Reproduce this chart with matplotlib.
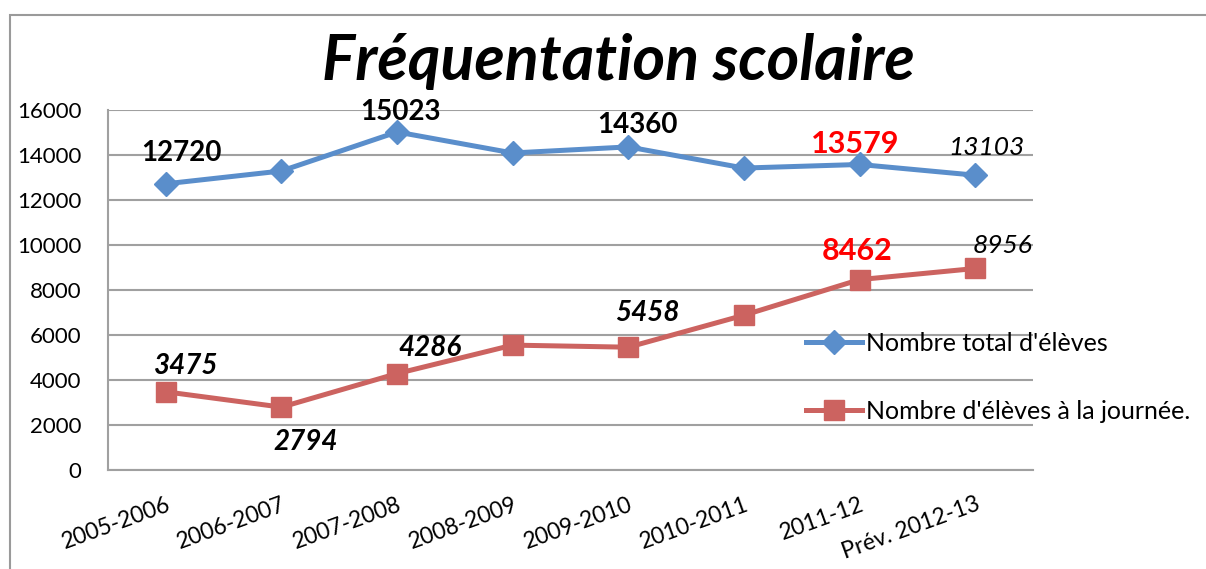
import matplotlib
matplotlib.use('Agg')
import matplotlib.pyplot as plt
from matplotlib.patches import Rectangle

plt.rcParams['font.family'] = ['Lato', 'DejaVu Sans']

# data
years = ["2005-2006", "2006-2007", "2007-2008", "2008-2009",
         "2009-2010", "2010-2011", "2011-12", "Prév. 2012-13"]
total = [12720, 13290, 15023, 14090, 14360, 13420, 13579, 13103]
journee = [3475, 2794, 4286, 5550, 5458, 6880, 8462, 8956]
total_label = "Nombre total d'élèves"
journee_label = "Nombre d'élèves à la journée."
yticks = [0, 2000, 4000, 6000, 8000, 10000, 12000, 14000, 16000]

# which points get a label, and how it looks: (index, dx px, dy px, weight, style, color, size)
total_tags = [(0, 16, 31, 'bold', 'normal', 'black', 20),
              (2, 3, 20, 'bold', 'normal', 'black', 20),
              (4, 9, 22, 'bold', 'normal', 'black', 20),
              (6, -4, 20, 'bold', 'normal', 'red', 22),
              (7, 11, 28, 'normal', 'italic', 'black', 19)]
journee_tags = [(0, 20, 26, 'bold', 'italic', 'black', 20),
                (1, 24, -35, 'bold', 'italic', 'black', 20),
                (2, 33, 26, 'bold', 'italic', 'black', 20),
                (4, 19, 34, 'bold', 'italic', 'black', 20),
                (6, -2, 29, 'bold', 'normal', 'red', 22),
                (7, 27, 23, 'normal', 'italic', 'black', 19)]

blue = '#5A8ECB'
red = '#CC6360'
grid_col = '#A0A0A0'

fig = plt.figure(figsize=(12.06, 5.69), dpi=100)
ax = fig.add_axes([108/1206, 99/569, 925/1206, 360/569])

x = list(range(len(years)))
ax.plot(x, total, color=blue, lw=3.6, marker='D', ms=12, label=total_label, zorder=3)
ax.plot(x, journee, color=red, lw=3.6, marker='s', ms=14, label=journee_label, zorder=3)

for i, dx, dy, w, st, c, s in total_tags:
    ax.annotate(str(total[i]), (x[i], total[i]), xytext=(dx, dy), textcoords='offset pixels',
                ha='center', va='center', fontsize=s, fontweight=w, fontstyle=st, color=c)
for i, dx, dy, w, st, c, s in journee_tags:
    ax.annotate(str(journee[i]), (x[i], journee[i]), xytext=(dx, dy), textcoords='offset pixels',
                ha='center', va='center', fontsize=s, fontweight=w, fontstyle=st, color=c)

ax.set_xlim(-0.5, len(years) - 0.5)
ax.set_ylim(0, 16000)
ax.set_yticks(yticks)
ax.set_yticklabels([str(v) for v in yticks], fontsize=16)
ax.yaxis.grid(True, color=grid_col, lw=1.5)
ax.set_axisbelow(True)
ax.set_xticks(x)
ax.set_xticklabels(years, fontsize=16.5, rotation=20, ha='right', rotation_mode='anchor')
ax.tick_params(axis='both', length=0)
ax.tick_params(axis='y', pad=19)
ax.tick_params(axis='x', pad=17)
for sp in ['top', 'right']:
    ax.spines[sp].set_visible(False)
for sp in ['left', 'bottom']:
    ax.spines[sp].set_color(grid_col)
    ax.spines[sp].set_linewidth(1.5)

ax.legend(loc='upper left', bbox_to_anchor=(806/1206, 1 - 332/569), bbox_transform=fig.transFigure,
          frameon=False, fontsize=18, handlelength=2.25, handletextpad=0.15, labelspacing=1.8,
          borderpad=0, borderaxespad=0)

fig.text(618/1206, 1 - 62/569, "Fréquentation scolaire", ha='center', va='center',
         fontsize=45, fontweight='bold', fontstyle='italic')

# outer chart border (only top and left visible)
fig.patches.append(Rectangle((10/1206, -0.1), 1.2, 1 - 15/569 + 0.1, transform=fig.transFigure,
                             fill=False, edgecolor='#9A9A9A', lw=1.5))

fig.savefig('out.png', dpi=100)
